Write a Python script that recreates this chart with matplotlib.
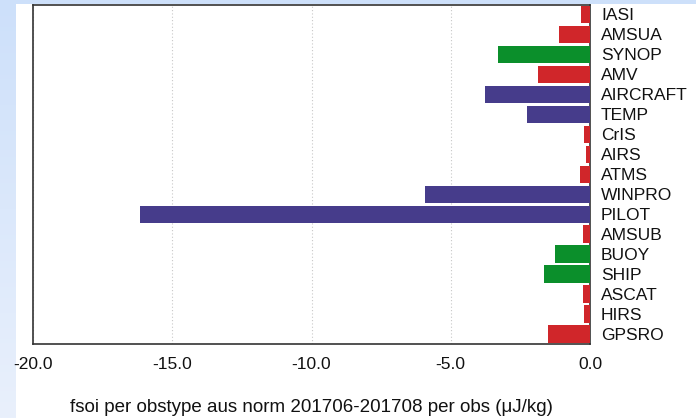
import numpy as np
import matplotlib
matplotlib.use("Agg")
import matplotlib.pyplot as plt
from matplotlib.colors import LinearSegmentedColormap

categories = ["IASI", "AMSUA", "SYNOP", "AMV", "AIRCRAFT", "TEMP", "CrIS", "AIRS",
              "ATMS", "WINPRO", "PILOT", "AMSUB", "BUOY", "SHIP", "ASCAT", "HIRS", "GPSRO"]
values = [-0.34, -1.10, -3.29, -1.86, -3.77, -2.25, -0.22, -0.15,
          -0.36, -5.92, -16.16, -0.24, -1.25, -1.64, -0.24, -0.22, -1.52]
groups = ["sat", "sat", "surf", "sat", "upper", "upper", "sat", "sat",
          "sat", "upper", "upper", "sat", "surf", "surf", "sat", "sat", "sat"]
xticks = [-20.0, -15.0, -10.0, -5.0, 0.0]
xlabel = "fsoi per obstype aus norm 201706-201708 per obs (\u03bcJ/kg)"

palette = {"sat": "#d0262a", "surf": "#0b8f2b", "upper": "#463c8b"}

plt.rcParams['font.family'] = ['Liberation Sans', 'DejaVu Sans']

fig = plt.figure(figsize=(6.96, 4.18), dpi=100)
fig.patch.set_facecolor("white")

# decorative gradient strips
grad = np.linspace(0, 1, 256).reshape(-1, 1)
cmap = LinearSegmentedColormap.from_list("bg", ["#cde0fa", "#e9f0fc"])
lax = fig.add_axes([0, 0, 15/696, 1])
lax.imshow(grad, aspect="auto", cmap=cmap, extent=[0, 1, 0, 1], origin="upper")
lax.axis("off")
tax = fig.add_axes([0, 1 - 4/418, 1, 4/418])
tax.imshow(np.full((1, 2), 0.0), aspect="auto", cmap=cmap, vmin=0, vmax=1)
tax.axis("off")

ax = fig.add_axes([33/696, 1 - 344/418, (590-33)/696, (344-4.5)/418])
y = np.arange(len(categories))
colors = [palette[g] for g in groups]
ax.barh(y, values, height=0.87, color=colors, edgecolor="none", zorder=3)
ax.set_ylim(len(categories) - 0.5, -0.5)
ax.set_xlim(-20, 0)
ax.set_xticks(xticks)
ax.set_xticklabels([f"{t:.1f}" for t in xticks])
ax.set_yticks(y)
ax.set_yticklabels(categories)
ax.yaxis.tick_right()
ax.tick_params(axis="y", length=0, pad=8, labelsize=12.5, colors="#111111")
ax.tick_params(axis="x", length=0, pad=9.5, labelsize=12.5, colors="#111111")
ax.grid(axis="x", linestyle=(0, (1, 2)), color="#c8c8c8", linewidth=0.8, zorder=0)
for s in ax.spines.values():
    s.set_color("#333333")
    s.set_linewidth(1.2)
ax.set_xlabel(xlabel, fontsize=13.5, labelpad=19.5, color="#111111")

fig.savefig("out.png", dpi=100)
